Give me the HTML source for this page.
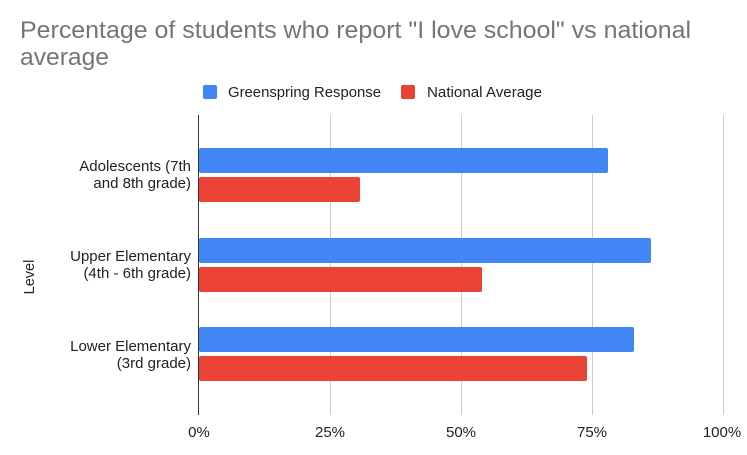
<!DOCTYPE html>
<html><head><style>body{margin:0;background:#fff}</style></head><body>
<svg width="747" height="450" xmlns="http://www.w3.org/2000/svg" font-family="Liberation Sans, Arial, sans-serif">
<rect width="747" height="450" fill="#fff"/>
<text x="20" y="38" font-size="24" fill="#757575" textLength="671" lengthAdjust="spacingAndGlyphs">Percentage of students who report "I love school" vs national</text>
<text x="20" y="65" font-size="24" fill="#757575" textLength="89" lengthAdjust="spacingAndGlyphs">average</text>
<rect x="203" y="85" width="14" height="14" rx="2" fill="#4285f4"/>
<text x="228" y="97" font-size="14.5" fill="#222" textLength="153" lengthAdjust="spacingAndGlyphs">Greenspring Response</text>
<rect x="401" y="85" width="14" height="14" rx="2" fill="#ea4335"/>
<text x="427" y="97" font-size="14.5" fill="#222" textLength="115" lengthAdjust="spacingAndGlyphs">National Average</text>
<g stroke="#ccc" stroke-width="1">
<line x1="330.5" y1="115" x2="330.5" y2="415"/>
<line x1="461.5" y1="115" x2="461.5" y2="415"/>
<line x1="592.5" y1="115" x2="592.5" y2="415"/>
<line x1="723.5" y1="115" x2="723.5" y2="415"/>
</g>
<g>
<rect x="199" y="148" width="409" height="25" rx="2" fill="#4285f4"/>
<rect x="199" y="177" width="161" height="25" rx="2" fill="#ea4335"/>
<rect x="199" y="238" width="452" height="25" rx="2" fill="#4285f4"/>
<rect x="199" y="267" width="283" height="25" rx="2" fill="#ea4335"/>
<rect x="199" y="327" width="435" height="25" rx="2" fill="#4285f4"/>
<rect x="199" y="356" width="388" height="25" rx="2" fill="#ea4335"/>
</g>
<line x1="198.5" y1="115" x2="198.5" y2="415" stroke="#333" stroke-width="1"/>
<g font-size="15" fill="#222" text-anchor="end">
<text x="191" y="171">Adolescents (7th</text>
<text x="191" y="188">and 8th grade)</text>
<text x="191" y="261">Upper Elementary</text>
<text x="191" y="278">(4th - 6th grade)</text>
<text x="191" y="351">Lower Elementary</text>
<text x="191" y="368">(3rd grade)</text>
</g>
<g font-size="15" fill="#222" text-anchor="middle">
<text x="199" y="437">0%</text>
<text x="330" y="437">25%</text>
<text x="461" y="437">50%</text>
<text x="592" y="437">75%</text>
<text x="722" y="437">100%</text>
</g>
<text transform="translate(34,277) rotate(-90)" font-size="14.5" fill="#222" text-anchor="middle">Level</text>
</svg>
</body></html>
